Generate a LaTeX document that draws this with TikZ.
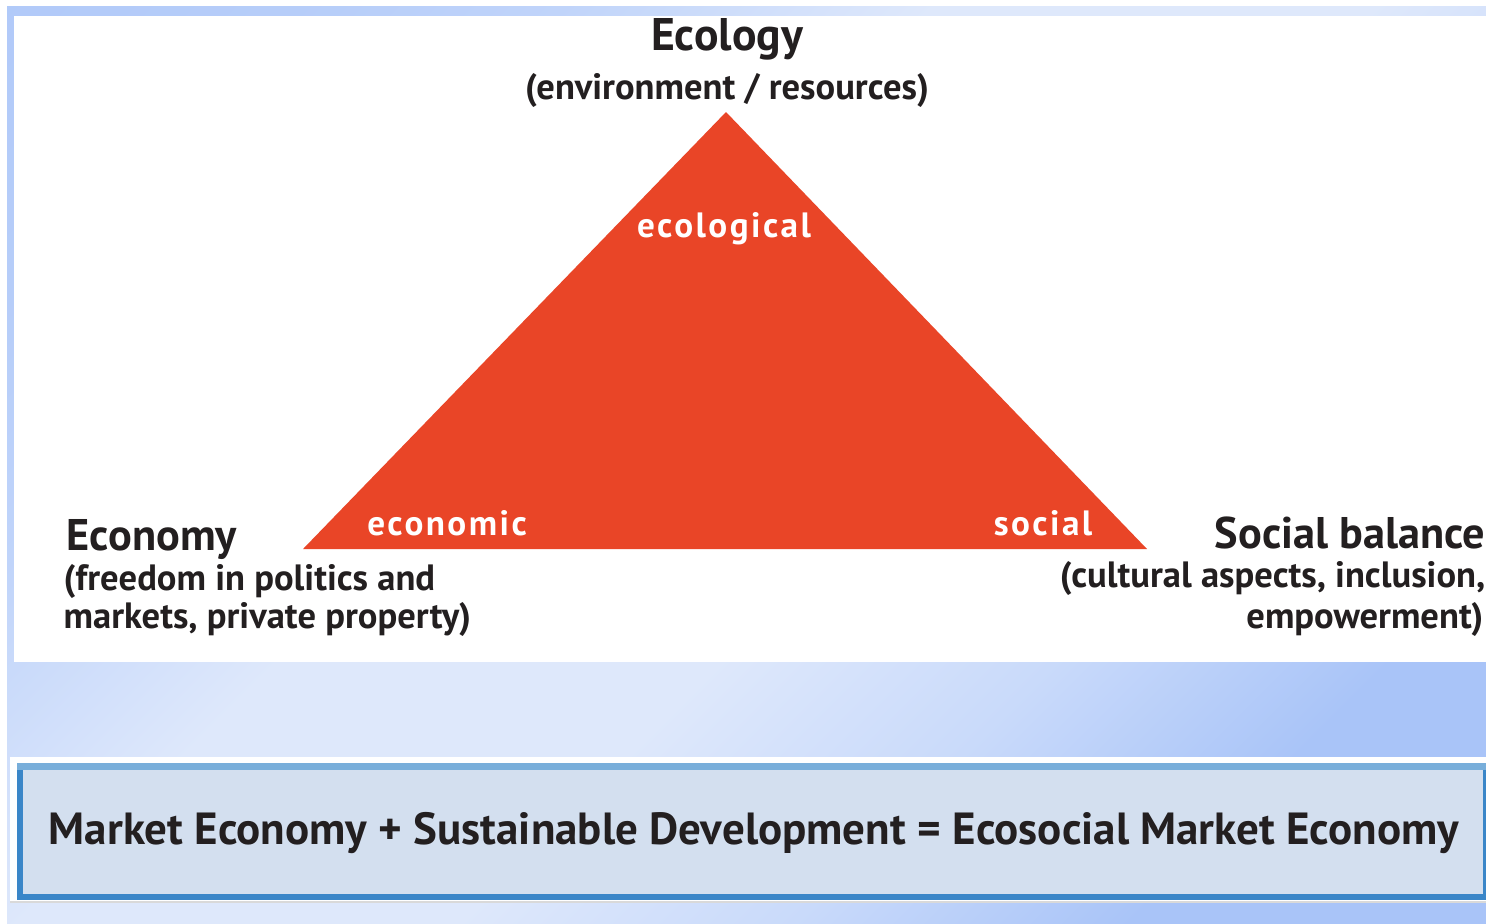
\documentclass[tikz,border=0pt]{standalone}
\usepackage{fontspec}
\setmainfont{PT Sans}
\newfontfamily\spacedfont[LetterSpace=7]{PT Sans}
\definecolor{trired}{HTML}{E94527}
\definecolor{textdark}{HTML}{231F20}
\definecolor{bgdark}{HTML}{A9C4F8}
\definecolor{bgmid}{HTML}{C0D4FA}
\definecolor{bglight}{HTML}{DEE8FB}
\definecolor{boxfill}{HTML}{D3DFEF}
\definecolor{boxblue}{HTML}{3A86C8}
\definecolor{boxtop}{HTML}{78AEDA}
\pgfdeclarehorizontalshading{bgshade}{100bp}{color(0bp)=(bgdark); color(24bp)=(bgdark!40!bgmid); color(31bp)=(bgmid); color(42bp)=(bglight); color(55bp)=(bglight); color(65bp)=(bgmid!70!bglight); color(75bp)=(bgdark); color(100bp)=(bgdark)}
\begin{document}
\begin{tikzpicture}[x=0.01cm, y=-0.01cm,
    heading/.style={font=\bfseries\fontsize{12.6}{15}\selectfont, text=textdark, inner sep=0pt},
    subline/.style={font=\bfseries\fontsize{10.4}{12}\selectfont, text=textdark, inner sep=0pt},
    corner/.style={font=\spacedfont\bfseries\fontsize{10}{12}\selectfont, text=white, inner sep=0pt, anchor=base}]
    \useasboundingbox (0,0) rectangle (1486,923);
    \fill[white] (0,0) rectangle (1486,923);
    \shade[shading=bgshade, shading angle=-45] (7,6) rectangle (1486,923);
    \fill[white] (14,16) rectangle (1486,662);

    % triangle
    \coordinate (top) at (726,112);
    \coordinate (left) at (303,549);
    \coordinate (right) at (1147,549);
    \fill[trired] (top) -- (right) -- (left) -- cycle;

    \node[corner] (ecological) at (724,237) {ecological};
    \node[corner] (economic) at (447,535) {economic};
    \node[corner] (social) at (1043,535) {social};

    % Ecology
    \node[heading, anchor=base, font=\bfseries\fontsize{13}{16}\selectfont] (ecology) at (727,50) {Ecology};
    \node[subline, anchor=base] (ecologysub) at (727,99) {(environment / resources)};

    % Economy
    \node[heading, anchor=base west] (economy) at (66,550) {Economy};
    \node[subline, anchor=base west] (economysub1) at (63,590) {(freedom in politics and};
    \node[subline, anchor=base west] (economysub2) at (63,628) {markets, private property)};

    % Social balance
    \node[heading, anchor=base east] (socialbal) at (1486,548) {Social balance};
    \node[subline, anchor=base east] (socialsub1) at (1486,587) {(cultural aspects, inclusion,};
    \node[subline, anchor=base east] (socialsub2) at (1484,628) {empowerment)};

    % formula box
    \fill[white] (10,757) rectangle (1486,903);
    \draw[gray!30, line width=0.02cm] (10,902) -- (1486,902);
    \filldraw[fill=boxfill, draw=boxblue, line width=0.065cm] (20,766) rectangle (1486,897);
    \draw[boxtop, line width=0.07cm] (17,766.5) -- (1486,766.5);
    \node[font=\bfseries\fontsize{12.8}{16}\selectfont, text=textdark, inner sep=0pt, anchor=base] (formula) at (754,844)
        {Market Economy + Sustainable Development = Ecosocial Market Economy};
\end{tikzpicture}
\end{document}
